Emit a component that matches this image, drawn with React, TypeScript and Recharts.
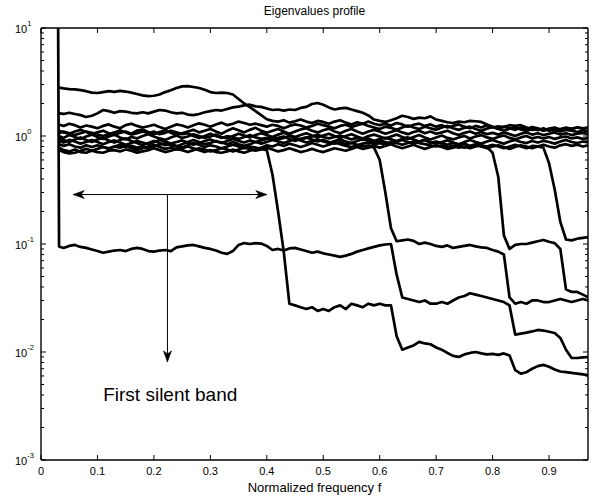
import React from "react";
import { LineChart, Line, XAxis, YAxis, ReferenceLine, ReferenceDot } from "recharts";

// normalized frequency grid shared by all eigenvalue curves
const FREQ = [
  0.03, 0.032, 0.04, 0.05, 0.06, 0.07, 0.08, 0.09,
  0.1, 0.11, 0.12, 0.13, 0.14, 0.15, 0.16, 0.17, 0.18, 0.19,
  0.2, 0.21, 0.22, 0.23, 0.24, 0.25, 0.26, 0.27, 0.28, 0.29,
  0.3, 0.31, 0.32, 0.33, 0.34, 0.35, 0.36, 0.37, 0.38, 0.39,
  0.4, 0.41, 0.42, 0.43, 0.44, 0.45, 0.46, 0.47, 0.48, 0.49,
  0.5, 0.51, 0.52, 0.53, 0.54, 0.55, 0.56, 0.57, 0.58, 0.59,
  0.6, 0.61, 0.62, 0.63, 0.64, 0.65, 0.66, 0.67, 0.68, 0.69,
  0.7, 0.71, 0.72, 0.73, 0.74, 0.75, 0.76, 0.77, 0.78, 0.79,
  0.8, 0.81, 0.82, 0.83, 0.84, 0.85, 0.86, 0.87, 0.88, 0.89,
  0.9, 0.91, 0.92, 0.93, 0.94, 0.95, 0.96, 0.97,
];

const EIG_1 = [
  2.8, 2.8, 2.76, 2.72, 2.7, 2.66, 2.6, 2.52,
  2.5, 2.55, 2.6, 2.56, 2.62, 2.58, 2.52, 2.45, 2.38, 2.34,
  2.36, 2.42, 2.55, 2.65, 2.78, 2.88, 2.9, 2.84, 2.78, 2.68,
  2.55, 2.5, 2.52, 2.5, 2.42, 2.2, 2.0, 1.85, 1.7, 1.56,
  1.43, 1.38, 1.36, 1.4, 1.33, 1.37, 1.42, 1.36, 1.32, 1.38,
  1.35, 1.3, 1.36, 1.4, 1.33, 1.28, 1.34, 1.3, 1.36, 1.3,
  1.26, 1.3, 1.25, 1.32, 1.28, 1.22, 1.27, 1.3, 1.24, 1.28,
  1.22, 1.26, 1.2, 1.24, 1.28, 1.22, 1.18, 1.24, 1.2, 1.26,
  1.22, 1.17, 1.22, 1.18, 1.14, 1.2, 1.16, 1.21, 1.18, 1.13,
  1.17, 1.2, 1.15, 1.19, 1.16, 1.2, 1.17, 1.19,
];

const EIG_2 = [
  1.62, 1.62, 1.6, 1.64, 1.6, 1.56, 1.5, 1.54,
  1.62, 1.74, 1.7, 1.64, 1.7, 1.68, 1.64, 1.62, 1.66, 1.62,
  1.68, 1.74, 1.72, 1.66, 1.62, 1.64, 1.58, 1.56, 1.6, 1.66,
  1.7, 1.74, 1.72, 1.78, 1.84, 1.87, 1.92, 1.95, 1.88, 1.86,
  1.8, 1.74, 1.76, 1.72, 1.76, 1.74, 1.82, 1.86, 1.98, 2.02,
  1.95, 1.84, 1.76, 1.8, 1.82, 1.76, 1.7, 1.64, 1.55, 1.42,
  1.38, 1.35, 1.4, 1.46, 1.54, 1.5, 1.44, 1.48, 1.46, 1.52,
  1.42, 1.38, 1.34, 1.32, 1.36, 1.34, 1.38, 1.37, 1.35, 1.28,
  1.2, 1.23, 1.21, 1.26, 1.24, 1.26, 1.2, 1.14, 1.16, 1.12,
  1.15, 1.12, 1.16, 1.19, 1.17, 1.2, 1.18, 1.2,
];

const EIG_3 = [
  1.28, 1.28, 1.24, 1.3, 1.26, 1.2, 1.25, 1.22,
  1.18, 1.24, 1.28, 1.22, 1.18, 1.26, 1.3, 1.24, 1.2, 1.23,
  1.27, 1.21, 1.16, 1.22, 1.28, 1.25, 1.2, 1.26, 1.31, 1.27,
  1.22, 1.28, 1.33, 1.26, 1.3, 1.36, 1.32, 1.27, 1.3, 1.26,
  1.22, 1.27, 1.24, 1.18, 1.24, 1.28, 1.25, 1.2, 1.24, 1.3,
  1.26, 1.22, 1.18, 1.24, 1.27, 1.21, 1.26, 1.3, 1.24, 1.2,
  1.16, 1.22, 1.19, 1.14, 1.2, 1.25, 1.2, 1.16, 1.22, 1.18,
  1.14, 1.2, 1.24, 1.18, 1.14, 1.19, 1.22, 1.16, 1.12, 1.17,
  1.21, 1.16, 1.12, 1.17, 1.2, 1.15, 1.11, 1.16, 1.13, 1.18,
  1.12, 1.15, 1.1, 1.14, 1.12, 1.09, 1.13, 1.1,
];

const EIG_4 = [
  1.12, 1.12, 1.08, 1.05, 1.1, 1.14, 1.09, 1.04,
  1.08, 1.12, 1.06, 1.02, 1.07, 1.1, 1.05, 1.12, 1.15, 1.09,
  1.04, 1.09, 1.13, 1.07, 1.02, 1.06, 1.1, 1.14, 1.08, 1.12,
  1.16, 1.1, 1.05, 1.12, 1.18, 1.13, 1.08, 1.14, 1.19, 1.12,
  1.07, 1.12, 1.16, 1.1, 1.05, 1.1, 1.15, 1.18, 1.12, 1.08,
  1.13, 1.17, 1.1, 1.06, 1.12, 1.16, 1.1, 1.05, 1.1, 1.14,
  1.1, 1.05, 1.09, 1.13, 1.08, 1.04, 1.09, 1.12, 1.06, 1.1,
  1.05, 1.08, 1.12, 1.06, 1.02, 1.07, 1.1, 1.05, 1.09, 1.04,
  1.07, 1.03, 1.08, 1.04, 1.0, 1.05, 1.08, 1.03, 1.06, 1.02,
  1.05, 1.08, 1.03, 1.06, 1.02, 1.05, 1.07, 1.04,
];

const EIG_5 = [
  1.0, 1.0, 0.96, 1.02, 0.98, 0.94, 0.99, 1.03,
  0.98, 0.94, 0.99, 1.03, 0.97, 0.93, 0.98, 0.95, 1.0, 1.04,
  0.99, 0.95, 0.92, 0.97, 1.01, 0.96, 0.99, 1.04, 1.0, 0.96,
  0.99, 1.03, 0.98, 0.95, 1.0, 1.05, 1.01, 0.97, 1.02, 1.06,
  1.02, 0.98, 1.03, 1.07, 1.02, 0.98, 1.02, 1.06, 1.01, 0.97,
  1.01, 1.05, 1.0, 0.96, 1.0, 1.04, 0.99, 0.95, 1.0, 1.03,
  0.99, 0.95, 0.99, 1.03, 0.98, 0.94, 0.98, 1.02, 0.97, 0.93,
  0.97, 1.01, 0.96, 0.93, 0.97, 1.0, 0.95, 0.99, 1.02, 0.97,
  0.94, 0.98, 1.01, 0.96, 0.93, 0.97, 1.0, 0.95, 0.98, 0.95,
  0.98, 0.94, 0.97, 0.99, 0.95, 0.97, 0.94, 0.96,
];

const EIG_6 = [
  0.9, 0.9, 0.87, 0.92, 0.89, 0.85, 0.88, 0.92,
  0.88, 0.84, 0.88, 0.91, 0.87, 0.83, 0.86, 0.9, 0.87, 0.84,
  0.88, 0.92, 0.89, 0.85, 0.88, 0.91, 0.87, 0.83, 0.86, 0.9,
  0.93, 0.89, 0.86, 0.9, 0.94, 0.9, 0.87, 0.91, 0.88, 0.85,
  0.88, 0.92, 0.89, 0.86, 0.9, 0.94, 0.91, 0.87, 0.9, 0.93,
  0.89, 0.86, 0.9, 0.93, 0.89, 0.86, 0.9, 0.94, 0.9, 0.87,
  0.91, 0.88, 0.85, 0.89, 0.92, 0.88, 0.85, 0.89, 0.92, 0.88,
  0.85, 0.88, 0.91, 0.87, 0.84, 0.88, 0.92, 0.88, 0.85, 0.89,
  0.92, 0.88, 0.85, 0.89, 0.92, 0.88, 0.86, 0.9, 0.87, 0.9,
  0.88, 0.85, 0.89, 0.92, 0.88, 0.86, 0.89, 0.87,
];

const EIG_7 = [
  0.78, 0.78, 0.74, 0.72, 0.75, 0.71, 0.7, 0.73,
  0.71, 0.7, 0.73, 0.74, 0.72, 0.75, 0.73, 0.7, 0.72, 0.74,
  0.77, 0.74, 0.71, 0.73, 0.76, 0.74, 0.71, 0.74, 0.77, 0.75,
  0.72, 0.74, 0.77, 0.75, 0.72, 0.75, 0.78, 0.76, 0.73, 0.75,
  0.78, 0.75, 0.72, 0.74, 0.77, 0.74, 0.71, 0.73, 0.76, 0.73,
  0.71, 0.74, 0.77, 0.75, 0.73, 0.76, 0.79, 0.76, 0.78, 0.81,
  0.78, 0.81, 0.84, 0.8, 0.77, 0.8, 0.83, 0.79, 0.76, 0.79,
  0.82, 0.79, 0.76, 0.78, 0.81, 0.78, 0.8, 0.83, 0.8, 0.77,
  0.8, 0.82, 0.79, 0.76, 0.79, 0.82, 0.8, 0.77, 0.8, 0.83,
  0.8, 0.78, 0.82, 0.84, 0.81, 0.83, 0.8, 0.82,
];

// leaves the cluster near f = 0.9
const EIG_8 = [
  0.74, 0.74, 0.71, 0.69, 0.7, 0.73, 0.76, 0.73,
  0.76, 0.79, 0.76, 0.8, 0.78, 0.81, 0.77, 0.74, 0.77, 0.8,
  0.83, 0.79, 0.76, 0.78, 0.75, 0.77, 0.8, 0.77, 0.74, 0.71,
  0.74, 0.71, 0.7, 0.72, 0.75, 0.72, 0.7, 0.73, 0.75, 0.78,
  0.82, 0.8, 0.84, 0.81, 0.85, 0.82, 0.79, 0.82, 0.86, 0.83,
  0.8, 0.83, 0.87, 0.84, 0.81, 0.79, 0.82, 0.85, 0.87, 0.84,
  0.86, 0.84, 0.88, 0.86, 0.83, 0.86, 0.89, 0.86, 0.84, 0.82,
  0.8, 0.82, 0.79, 0.81, 0.78, 0.8, 0.77, 0.8, 0.82, 0.8,
  0.83, 0.8, 0.77, 0.8, 0.83, 0.8, 0.77, 0.81, 0.8, 0.78,
  0.56, 0.32, 0.16, 0.11, 0.108, 0.112, 0.114, 0.116,
];

// leaves the cluster near f = 0.8
const EIG_9 = [
  0.84, 0.84, 0.81, 0.84, 0.8, 0.78, 0.82, 0.79,
  0.82, 0.79, 0.77, 0.8, 0.83, 0.79, 0.81, 0.78, 0.8, 0.77,
  0.8, 0.83, 0.86, 0.82, 0.8, 0.84, 0.88, 0.92, 0.88, 0.84,
  0.86, 0.9, 0.87, 0.84, 0.88, 0.84, 0.81, 0.84, 0.88, 0.91,
  0.94, 0.97, 0.93, 0.96, 1.0, 0.96, 0.93, 0.96, 0.99, 1.03,
  0.98, 0.95, 0.98, 1.01, 0.97, 0.93, 0.96, 0.92, 0.95, 0.9,
  0.94, 0.96, 0.93, 0.9, 0.94, 0.97, 0.93, 0.89, 0.92, 0.86,
  0.89, 0.86, 0.83, 0.86, 0.82, 0.85, 0.81, 0.84, 0.8, 0.79,
  0.7, 0.42, 0.12, 0.09, 0.098, 0.1, 0.1, 0.103, 0.106, 0.109,
  0.105, 0.102, 0.09, 0.038, 0.036, 0.036, 0.034, 0.032,
];

// leaves the cluster near f = 0.6
const EIG_10 = [
  1.06, 1.06, 1.1, 1.06, 1.02, 1.06, 1.1, 1.07,
  1.03, 1.0, 1.04, 1.08, 1.13, 1.08, 1.03, 1.06, 1.1, 1.06,
  1.1, 1.04, 1.07, 1.12, 1.08, 1.04, 1.06, 1.0, 0.96, 1.0,
  1.05, 1.0, 0.96, 1.0, 0.97, 0.94, 0.98, 1.02, 0.97, 0.94,
  0.96, 0.93, 0.96, 0.99, 0.94, 0.9, 0.94, 0.97, 0.93, 0.89,
  0.92, 0.88, 0.85, 0.88, 0.84, 0.86, 0.83, 0.8, 0.82, 0.78,
  0.6, 0.3, 0.14, 0.106, 0.108, 0.11, 0.107, 0.1, 0.103, 0.1,
  0.096, 0.094, 0.097, 0.092, 0.094, 0.096, 0.098, 0.095, 0.093, 0.092,
  0.088, 0.085, 0.08, 0.032, 0.028, 0.029, 0.028, 0.03, 0.03, 0.029,
  0.029, 0.03, 0.031, 0.03, 0.029, 0.03, 0.031, 0.03,
];

// leaves the cluster near f = 0.41
const EIG_11 = [
  0.95, 0.95, 0.92, 0.88, 0.93, 0.97, 0.92, 0.88,
  0.93, 0.96, 0.91, 0.87, 0.92, 0.95, 0.9, 0.86, 0.82, 0.86,
  0.9, 0.86, 0.82, 0.85, 0.81, 0.78, 0.82, 0.86, 0.83, 0.79,
  0.82, 0.8, 0.77, 0.8, 0.83, 0.8, 0.77, 0.8, 0.78, 0.76,
  0.74, 0.44, 0.2, 0.085, 0.028, 0.027, 0.026, 0.025, 0.026, 0.024,
  0.025, 0.024, 0.026, 0.027, 0.025, 0.028, 0.027, 0.026, 0.028, 0.027,
  0.028, 0.027, 0.027, 0.014, 0.0105, 0.011, 0.0115, 0.0124, 0.012, 0.0118,
  0.011, 0.0105, 0.0098, 0.0092, 0.009, 0.0095, 0.0098, 0.01, 0.0097, 0.0095,
  0.0096, 0.0094, 0.0097, 0.0093, 0.0068, 0.0063, 0.0065, 0.007, 0.0074, 0.0076,
  0.0073, 0.0069, 0.0066, 0.0065, 0.0064, 0.0063, 0.0062, 0.0061,
];

// first silent eigenvalue
const EIG_12 = [
  30, 0.095, 0.092, 0.096, 0.098, 0.094, 0.092, 0.089,
  0.086, 0.083, 0.085, 0.087, 0.088, 0.086, 0.09, 0.092, 0.09, 0.086,
  0.085, 0.087, 0.088, 0.086, 0.093, 0.095, 0.097, 0.098, 0.095, 0.092,
  0.09, 0.087, 0.083, 0.081, 0.086, 0.098, 0.102, 0.1, 0.102, 0.101,
  0.096, 0.088, 0.09, 0.087, 0.091, 0.092, 0.089, 0.086, 0.083, 0.085,
  0.082, 0.08, 0.078, 0.076, 0.078, 0.081, 0.085, 0.088, 0.091, 0.094,
  0.097, 0.099, 0.1, 0.052, 0.032, 0.031, 0.03, 0.029, 0.03, 0.028,
  0.028, 0.029, 0.028, 0.03, 0.032, 0.033, 0.035, 0.034, 0.033, 0.032,
  0.031, 0.03, 0.029, 0.027, 0.0145, 0.0148, 0.0151, 0.0155, 0.016, 0.0158,
  0.0154, 0.015, 0.0135, 0.0105, 0.0088, 0.0088, 0.0089, 0.009,
];

const SERIES = [EIG_1, EIG_2, EIG_3, EIG_4, EIG_5, EIG_6, EIG_7, EIG_8, EIG_9, EIG_10, EIG_11, EIG_12];

const X_TICKS = [0, 0.1, 0.2, 0.3, 0.4, 0.5, 0.6, 0.7, 0.8, 0.9];
const X_TICK_LABELS = ["0", "0.1", "0.2", "0.3", "0.4", "0.5", "0.6", "0.7", "0.8", "0.9"];
const Y_MAJOR = [0.001, 0.01, 0.1, 1, 10];
const Y_MINOR = [
  0.002, 0.003, 0.004, 0.005, 0.006, 0.007, 0.008, 0.009,
  0.02, 0.03, 0.04, 0.05, 0.06, 0.07, 0.08, 0.09,
  0.2, 0.3, 0.4, 0.5, 0.6, 0.7, 0.8, 0.9,
  2, 3, 4, 5, 6, 7, 8, 9,
];
const Y_TICKS = [...Y_MAJOR, ...Y_MINOR];

// annotation anchors, in data units
const BAND_ARROW = { from: 0.057, to: 0.4, level: 0.287 };
const DOWN_ARROW = { f: 0.224, from: 0.285, to: 0.0081 };
const NOTE = { f: 0.229, level: 0.0035, text: "First silent band" };

const X_MAX = 0.969;
const FONT = "'Liberation Sans', Arial, Helvetica, sans-serif";

const rows = FREQ.map((f, i) => {
  const r: Record<string, number> = { f };
  SERIES.forEach((s, k) => {
    r[`e${k}`] = s[i];
  });
  return r;
});

const isMajor = (v: number) => Y_MAJOR.includes(v);

function BottomTick({ x, y, payload }: any) {
  const idx = X_TICKS.indexOf(payload.value);
  return (
    <g>
      <line x1={x} x2={x} y1={y} y2={y - 5} stroke="#000" />
      <text x={x} y={y + 15} textAnchor="middle" fontSize={11} fill="#000" fontFamily={FONT}>
        {X_TICK_LABELS[idx]}
      </text>
    </g>
  );
}

function TopTick({ x, y }: any) {
  return <line x1={x} x2={x} y1={y} y2={y + 5} stroke="#000" />;
}

function LeftTick({ x, y, payload }: any) {
  const v = payload.value;
  const major = isMajor(v);
  const exp = Math.round(Math.log10(v));
  return (
    <g>
      <line x1={x} x2={x + (major ? 5 : 3)} y1={y} y2={y} stroke="#000" />
      {major && (
        <text x={x - 26} y={y + 4.5} fontSize={11} fill="#000" fontFamily={FONT}>
          10
          <tspan dy={-6.5} fontSize={7.5}>
            {exp}
          </tspan>
        </text>
      )}
    </g>
  );
}

function RightTick({ x, y, payload }: any) {
  const len = isMajor(payload.value) ? 5 : 3;
  return <line x1={x} x2={x - len} y1={y} y2={y} stroke="#000" />;
}

function head(tx: number, ty: number, dx: number, dy: number) {
  const d = Math.hypot(dx, dy) || 1;
  const ux = dx / d;
  const uy = dy / d;
  const len = 11;
  const half = 4;
  const notch = 8;
  const pts = [
    [tx, ty],
    [tx - ux * len - uy * half, ty - uy * len + ux * half],
    [tx - ux * notch, ty - uy * notch],
    [tx - ux * len + uy * half, ty - uy * len - ux * half],
  ];
  return <polygon points={pts.map((p) => p.join(",")).join(" ")} fill="#000" stroke="#000" strokeWidth={0.6} />;
}

function DoubleArrow(p: any) {
  const { x1, y1, x2, y2 } = p;
  return (
    <g>
      <line x1={x1} y1={y1} x2={x2} y2={y2} stroke="#000" strokeWidth={1} />
      {head(x1, y1, x1 - x2, y1 - y2)}
      {head(x2, y2, x2 - x1, y2 - y1)}
    </g>
  );
}

function SingleArrow(p: any) {
  const { x1, y1, x2, y2 } = p;
  return (
    <g>
      <line x1={x1} y1={y1} x2={x2} y2={y2} stroke="#000" strokeWidth={1} />
      {head(x2, y2, x2 - x1, y2 - y1)}
    </g>
  );
}

export default function App() {
  return (
    <div
      style={{
        position: "absolute",
        left: 0,
        top: 0,
        width: 596,
        height: 499,
        background: "#fff",
        fontFamily: FONT,
      }}
    >
      <LineChart width={596} height={499} data={rows} margin={{ top: 0, right: 0, bottom: 0, left: 0 }}>
        <XAxis
          xAxisId="bottom"
          dataKey="f"
          type="number"
          domain={[0, X_MAX]}
          allowDataOverflow
          ticks={X_TICKS}
          interval={0}
          height={39}
          tickSize={0}
          tickMargin={0}
          tickLine={false}
          tick={<BottomTick />}
          axisLine={{ stroke: "#000", strokeWidth: 1.4 }}
          label={{ value: "Normalized frequency f", position: "insideBottom", offset: 7, fontSize: 13, fill: "#000" }}
        />
        <XAxis
          xAxisId="top"
          orientation="top"
          dataKey="f"
          type="number"
          domain={[0, X_MAX]}
          allowDataOverflow
          ticks={X_TICKS}
          interval={0}
          height={28}
          tickSize={0}
          tickMargin={0}
          tickLine={false}
          tick={<TopTick />}
          axisLine={{ stroke: "#000", strokeWidth: 1.4 }}
          label={{ value: "Eigenvalues profile", position: "insideTop", offset: 6, fontSize: 12, fill: "#000" }}
        />
        <YAxis
          yAxisId="left"
          type="number"
          scale="log"
          domain={[0.001, 10]}
          allowDataOverflow
          ticks={Y_TICKS}
          interval={0}
          width={41}
          tickSize={0}
          tickMargin={0}
          tickLine={false}
          tick={<LeftTick />}
          axisLine={{ stroke: "#000", strokeWidth: 1.4 }}
        />
        <YAxis
          yAxisId="right"
          orientation="right"
          type="number"
          scale="log"
          domain={[0.001, 10]}
          allowDataOverflow
          ticks={Y_TICKS}
          interval={0}
          width={8}
          tickSize={0}
          tickMargin={0}
          tickLine={false}
          tick={<RightTick />}
          axisLine={{ stroke: "#000", strokeWidth: 1.4 }}
        />
        {SERIES.map((_, k) => (
          <Line
            key={k}
            xAxisId="bottom"
            yAxisId="left"
            type="linear"
            dataKey={`e${k}`}
            stroke="#000"
            strokeWidth={2.7}
            strokeLinejoin="round"
            dot={false}
            activeDot={false}
            isAnimationActive={false}
          />
        ))}
        <ReferenceLine
          xAxisId="bottom"
          yAxisId="left"
          segment={[
            { x: BAND_ARROW.from, y: BAND_ARROW.level },
            { x: BAND_ARROW.to, y: BAND_ARROW.level },
          ]}
          shape={DoubleArrow}
        />
        <ReferenceLine
          xAxisId="bottom"
          yAxisId="left"
          segment={[
            { x: DOWN_ARROW.f, y: DOWN_ARROW.from },
            { x: DOWN_ARROW.f, y: DOWN_ARROW.to },
          ]}
          shape={SingleArrow}
        />
        <ReferenceDot
          xAxisId="bottom"
          yAxisId="left"
          x={NOTE.f}
          y={NOTE.level}
          r={0}
          shape={(p: any) => (
            <text x={p.cx} y={p.cy} textAnchor="middle" fontSize={19} fill="#000" fontFamily={FONT}>
              {NOTE.text}
            </text>
          )}
        />
      </LineChart>
    </div>
  );
}
